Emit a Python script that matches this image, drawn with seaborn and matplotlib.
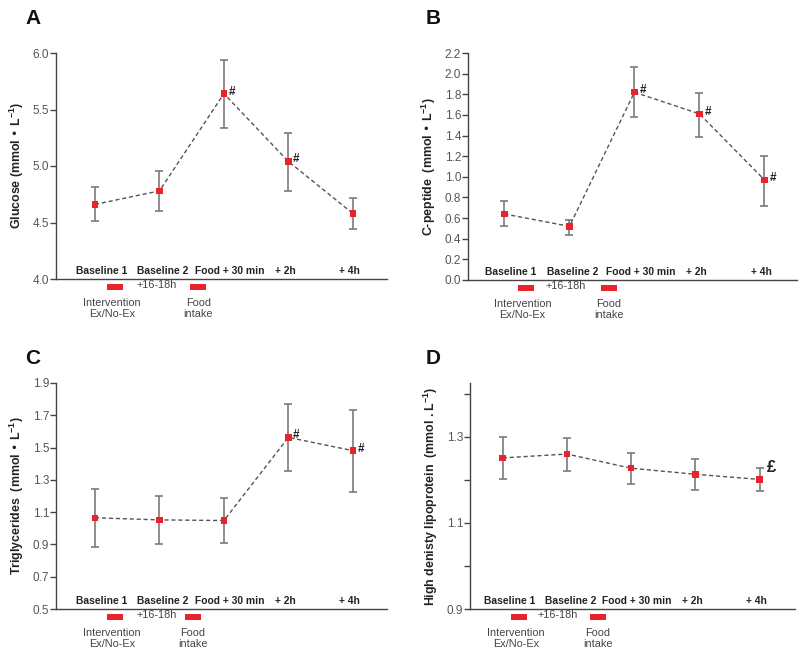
import numpy as np
import pandas as pd
import matplotlib
matplotlib.use("Agg")
import matplotlib.pyplot as plt
import seaborn as sns

# ---------------- data ----------------
categories = ["Baseline 1", "Baseline 2", "Food + 30 min", "+ 2h", "+ 4h"]

glucose_mean = [4.66, 4.78, 5.64, 5.04, 4.58]
glucose_lo = [4.51, 4.60, 5.34, 4.78, 4.44]
glucose_hi = [4.81, 4.96, 5.94, 5.29, 4.72]

cpep_mean = [0.64, 0.52, 1.82, 1.61, 0.97]
cpep_lo = [0.52, 0.44, 1.58, 1.39, 0.72]
cpep_hi = [0.77, 0.58, 2.06, 1.81, 1.20]

trig_mean = [1.065, 1.052, 1.048, 1.563, 1.481]
trig_lo = [0.882, 0.900, 0.907, 1.355, 1.227]
trig_hi = [1.243, 1.200, 1.185, 1.772, 1.732]

hdl_mean = [1.251, 1.260, 1.227, 1.213, 1.201]
hdl_lo = [1.201, 1.220, 1.191, 1.177, 1.173]
hdl_hi = [1.300, 1.298, 1.263, 1.248, 1.227]

glucose_marks = ["", "", "#", "#", ""]
cpep_marks = ["", "", "#", "#", "#"]
trig_marks = ["", "", "", "#", "#"]
hdl_marks = ["", "", "", "", "£"]

panel_letters = ["A", "B", "C", "D"]
ylabels = [
    "Glucose (mmol • L$^{-1}$)",
    "C-peptide  (mmol • L$^{-1}$)",
    "Triglycerides  (mmol • L$^{-1}$)",
    "High denisty lipoprotein  (mmol . L$^{-1}$)",
]
yticks_list = [
    [4.0, 4.5, 5.0, 5.5, 6.0],
    [0.0, 0.2, 0.4, 0.6, 0.8, 1.0, 1.2, 1.4, 1.6, 1.8, 2.0, 2.2],
    [0.5, 0.7, 0.9, 1.1, 1.3, 1.5, 1.7, 1.9],
    [0.9, 1.0, 1.1, 1.2, 1.3, 1.4],
]
ytick_labels = [
    ["4.0", "4.5", "5.0", "5.5", "6.0"],
    ["0.0", "0.2", "0.4", "0.6", "0.8", "1.0", "1.2", "1.4", "1.6", "1.8", "2.0", "2.2"],
    ["0.5", "0.7", "0.9", "1.1", "1.3", "1.5", "1.7", "1.9"],
    ["0.9", "", "1.1", "", "1.3", ""],
]
ylims = [(4.0, 6.0), (0.0, 2.2), (0.5, 1.9), (0.9, 1.425)]

below_texts = ["+16-18h", "Intervention\nEx/No-Ex", "Food\nintake"]

# ---------------- style ----------------
sns.set_theme(style="ticks")
plt.rcParams["font.family"] = ["Liberation Sans", "DejaVu Sans"]
plt.rcParams["mathtext.default"] = "regular"

RED = "#e8232b"
GRAY_EB = "#7a7a7a"
LINE_C = "#555555"
SPINE = "#444444"

fig = plt.figure(figsize=(8.0, 6.58), dpi=100)
W, H = 800, 658

def px_axes(l, t, r, b):
    return fig.add_axes([l / W, 1 - b / H, (r - l) / W, (b - t) / H])

# axes rectangles in pixels (left, top, right, bottom)
rects = [(56, 53, 387, 279), (468, 53, 797, 280), (56, 383, 387, 609), (470, 383, 795, 609)]
xlims = [(-0.605, 4.53), (-0.56, 4.5), (-0.605, 4.53), (-0.51, 4.55)]
# per-panel x positions (in category units) for annotation under the axis
under_pos = [
    (0.31, 0.95, 1.60, 0.26),
    (0.33, 0.95, 1.61, 0.28),
    (0.31, 0.95, 1.52, 0.26),
    (0.26, 0.86, 1.48, 0.21),
]
label_shift = [0.10, 0.05, 0.09, -0.05, -0.05]

series = [
    (glucose_mean, glucose_lo, glucose_hi, glucose_marks),
    (cpep_mean, cpep_lo, cpep_hi, cpep_marks),
    (trig_mean, trig_lo, trig_hi, trig_marks),
    (hdl_mean, hdl_lo, hdl_hi, hdl_marks),
]

letter_pos = [(33, 18), (433, 18), (33, 358), (433, 358)]

for i, (mean, lo, hi, marks) in enumerate(series):
    ax = px_axes(*rects[i])
    df = pd.DataFrame({"pos": np.arange(len(categories)), "mean": mean, "lo": lo, "hi": hi})
    yerr = np.vstack([df["mean"] - df["lo"], df["hi"] - df["mean"]])
    ax.errorbar(df["pos"], df["mean"], yerr=yerr, fmt="none", ecolor=GRAY_EB,
                elinewidth=1.2, capsize=3.2, capthick=1.2, zorder=2)
    sns.lineplot(data=df, x="pos", y="mean", ax=ax, color=LINE_C, linewidth=1.0,
                 linestyle=(0, (3, 2)), zorder=3, legend=False)
    sns.scatterplot(data=df, x="pos", y="mean", ax=ax, marker="s", s=22, color=RED,
                    edgecolor="none", zorder=4, legend=False)

    for j, m in enumerate(marks):
        if m == "#":
            ax.annotate(m, (j, mean[j]), xytext=(3.5, 1.5), textcoords="offset points",
                        fontsize=8.5, fontweight="bold", color="#222222", ha="left", va="center")
        elif m:
            ax.annotate(m, (j, mean[j]), xytext=(5.5, 8.5), textcoords="offset points",
                        fontsize=12, fontweight="bold", color="#222222", ha="left", va="center")

    ax.set_xlim(*xlims[i])
    ax.set_ylim(*ylims[i])
    ax.set_xticks([])
    ax.set_yticks(yticks_list[i])
    ax.set_yticklabels(ytick_labels[i])
    ax.tick_params(axis="y", length=4, width=1, color=SPINE, labelsize=8.5, labelcolor="#555555", pad=1)
    for s in ["top", "right"]:
        ax.spines[s].set_visible(False)
    for s in ["left", "bottom"]:
        ax.spines[s].set_color(SPINE)
        ax.spines[s].set_linewidth(1.0)
    ax.set_xlabel("")
    ax.set_ylabel(ylabels[i], fontsize=8.9, fontweight="bold", color="#222222", labelpad=5)

    tr = ax.get_xaxis_transform()
    for j, c in enumerate(categories):
        ax.text(j + label_shift[j], 0.012, c, transform=tr, ha="center", va="bottom",
                fontsize=7.4, fontweight="bold", color="#222222")

    r1, plus, r2, itx = under_pos[i]
    ax.plot([r1, r2], [-0.035, -0.035], transform=tr, linestyle="none",
            marker=[(-1.25, -0.45), (1.25, -0.45), (1.25, 0.45), (-1.25, 0.45)],
            markersize=11, color=RED, markeredgewidth=0, clip_on=False)
    ax.text(plus, -0.026, below_texts[0], transform=tr, ha="center", va="center",
            fontsize=7.8, color="#444444")
    ax.text(itx, -0.085, below_texts[1], transform=tr, ha="center", va="top",
            fontsize=7.8, color="#444444", linespacing=1.1)
    ax.text(r2, -0.085, below_texts[2], transform=tr, ha="center", va="top",
            fontsize=7.8, color="#444444", linespacing=1.1)

    lx, ly = letter_pos[i]
    fig.text(lx / W, 1 - ly / H, panel_letters[i], fontsize=15, fontweight="bold",
             ha="center", va="center", color="#111111")

fig.savefig("out.png", dpi=100)
